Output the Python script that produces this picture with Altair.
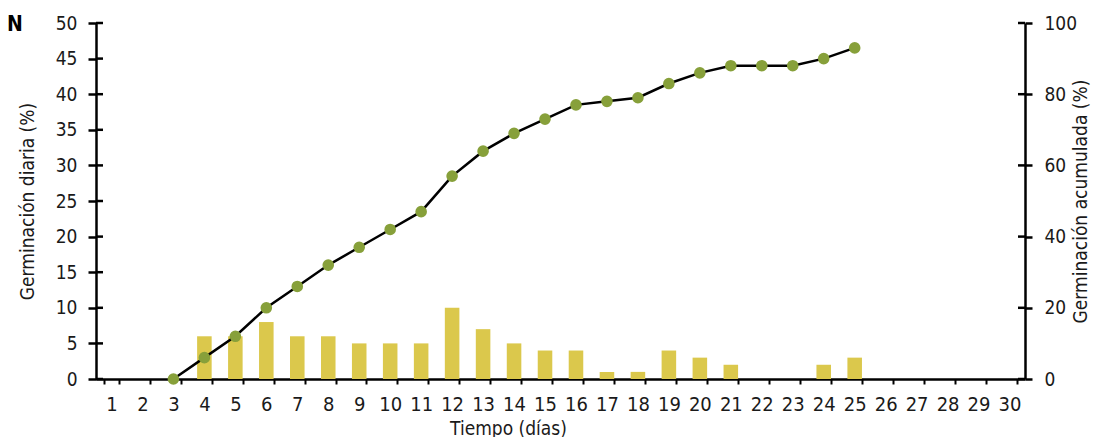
import altair as alt
import pandas as pd

days = list(range(1, 31))
daily = [0, 0, 0, 6, 6, 8, 6, 6, 5, 5, 5, 10, 7, 5, 4, 4, 1, 1, 4, 3, 2, 0, 0, 2, 3,
         0, 0, 0, 0, 0]
cum_days = list(range(3, 26))
cumulative = [0, 6, 12, 20, 26, 32, 37, 42, 47, 57, 64, 69, 73, 77, 78, 79, 83, 86,
              88, 88, 88, 90, 93]
left_ticks = [0, 5, 10, 15, 20, 25, 30, 35, 40, 45, 50]
right_ticks = [0, 20, 40, 60, 80, 100]

FONT = "Liberation Sans Narrow, DejaVu Sans Condensed, Arial Narrow, sans-serif"
BAR_COLOR = "#dbc84c"
DOT_COLOR = "#87a03a"
TXT = "#1a1a1a"

bars_df = pd.DataFrame({"dia": days, "diaria": daily})
cum_df = pd.DataFrame({"dia": cum_days, "acum": cumulative})
lt_df = pd.DataFrame({"v": left_ticks})
rt_df = pd.DataFrame({"v": right_ticks})

xscale = alt.Scale(domain=days, paddingInner=0.53, paddingOuter=0.265)
xaxis = alt.Axis(
    title="Tiempo (días)", labelAngle=0, tickBand="extent", tickSize=5,
    tickWidth=2, tickColor="black", domainColor="black", domainWidth=2.5,
    labelPadding=10, labelFontSize=20, labelColor=TXT,
    titleFontSize=19, titleFontWeight="normal", titleColor=TXT,
    titleX=412, titleY=40, titleBaseline="top", titleAnchor="start",
    titleAlign="center", grid=False,
)
lscale = alt.Scale(domain=[0, 50], nice=False)
rscale = alt.Scale(domain=[0, 100], nice=False)

laxis = alt.Axis(
    title="Germinación diaria (%)", values=left_ticks, tickSize=8,
    tickWidth=2.5, tickColor="black", domainColor="black", domainWidth=2.5,
    labelPadding=11, labelFontSize=19, labelColor=TXT,
    titleFontSize=19, titleFontWeight="normal", titleColor=TXT,
    titlePadding=18, grid=False)
raxis = alt.Axis(
    title="Germinación acumulada (%)", orient="right", values=right_ticks,
    tickSize=7, tickWidth=2.5, tickColor="black", domainColor="black",
    domainWidth=2.5, labelPadding=12, labelFontSize=19, labelColor=TXT,
    titleFontSize=19, titleFontWeight="normal", titleColor=TXT,
    titleAngle=270, titlePadding=14, grid=False)

bars = alt.Chart(bars_df).mark_bar(color=BAR_COLOR).encode(
    x=alt.X("dia:O", scale=xscale, axis=xaxis),
    y=alt.Y("diaria:Q", scale=lscale, axis=laxis),
)
lticks_in = alt.Chart(lt_df).mark_rule(color="black", strokeWidth=2.5).encode(
    y=alt.Y("v:Q", scale=lscale, axis=laxis),
    x=alt.value(0), x2=alt.value(7),
)
left = alt.layer(bars, lticks_in)

line = alt.Chart(cum_df).mark_line(color="black", strokeWidth=2.5).encode(
    x=alt.X("dia:O", scale=xscale, axis=xaxis),
    y=alt.Y("acum:Q", scale=rscale, axis=raxis),
)
points = alt.Chart(cum_df).mark_circle(color=DOT_COLOR, opacity=1, size=135).encode(
    x=alt.X("dia:O", scale=xscale, axis=xaxis),
    y=alt.Y("acum:Q", scale=rscale, axis=raxis),
)
rticks_in = alt.Chart(rt_df).mark_rule(color="black", strokeWidth=2.5).encode(
    y=alt.Y("v:Q", scale=rscale, axis=raxis),
    x=alt.value(922), x2=alt.value(929),
)
right = alt.layer(line, points, rticks_in)

label = alt.Chart(pd.DataFrame({"t": ["N"]})).mark_text(
    font=FONT, fontSize=21, fontWeight="bold", align="left", baseline="alphabetic",
    color="black",
).encode(text="t:N", x=alt.value(-89), y=alt.value(8))

chart = alt.layer(left, right, label).resolve_scale(y="independent").properties(
    width=929, height=356,
    autosize=alt.AutoSizeParams(type="none"),
    padding={"left": 88, "top": 15, "right": 75, "bottom": 58},
).configure(font=FONT).configure_view(stroke=None)

chart.save("out.html", embed_options={"renderer": "svg", "actions": False})
